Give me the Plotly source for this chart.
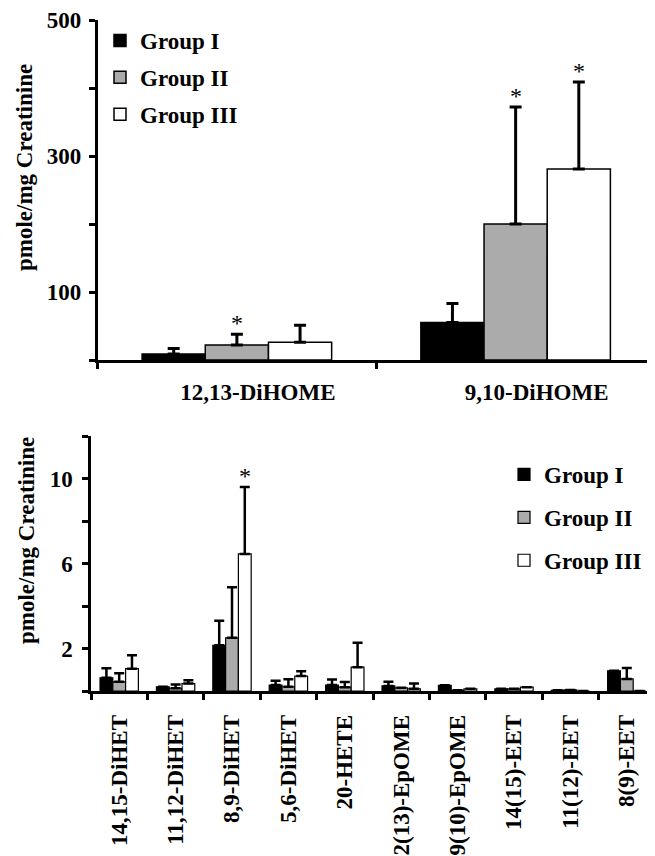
import plotly.graph_objects as go

# ---------------- data ----------------
groups = ["Group I", "Group II", "Group III"]

top_categories = ["12,13-DiHOME", "9,10-DiHOME"]
top_g1 = [9, 55]
top_g1_err = [8, 28]
top_g2 = [22, 200]
top_g2_err = [16, 172]
top_g3 = [26, 281]
top_g3_err = [25, 128]
top_star_g1 = [False, False]
top_star_g2 = [True, True]
top_star_g3 = [False, True]

bot_categories = ["14,15-DiHET", "11,12-DiHET", "8,9-DiHET", "5,6-DiHET", "20-HETE",
                  "12(13)-EpOME", "9(10)-EpOME", "14(15)-EET", "11(12)-EET", "8(9)-EET"]
bot_g1 = [0.62, 0.20, 2.15, 0.28, 0.28, 0.24, 0.27, 0.10, 0.03, 0.95]
bot_g1_err = [0.45, None, 1.15, 0.20, 0.26, 0.20, None, None, None, None]
bot_g2 = [0.43, 0.13, 2.50, 0.20, 0.18, 0.15, 0.03, 0.10, 0.05, 0.57]
bot_g2_err = [0.40, 0.17, 2.38, 0.35, 0.24, None, None, None, None, 0.51]
bot_g3 = [1.05, 0.35, 6.45, 0.70, 1.12, 0.10, 0.10, 0.18, 0.0, 0.0]
bot_g3_err = [0.63, 0.15, 3.15, 0.23, 1.15, 0.25, None, None, None, None]
bot_star_g1 = [False] * 10
bot_star_g2 = [False] * 10
bot_star_g3 = [False, False, True, False, False, False, False, False, False, False]

top_yticks = [0, 100, 200, 300, 400, 500]
top_yticklabels = ["", "100", "", "300", "", "500"]
bot_yticks = [0, 2, 4, 6, 8, 10, 12]
bot_yticklabels = ["", "2", "", "6", "", "10", ""]
y_title = "pmole/mg Creatinine"

# ---------------- styling ----------------
OFF = 8  # page body margin offset
W, H = 655 - OFF, 856 - OFF
FONT = "Liberation Serif, Times New Roman, serif"
fills = ["#000000", "#ababab", "#ffffff"]
BARGAP = 0.32

def px(v):
    return v - OFF

top_x0, top_x1 = px(97.5), float(W)
top_y0, top_y1 = px(20.0), px(360.0)
bot_x0, bot_x1 = px(91.0), float(W)
bot_y0, bot_y1 = px(436.0), px(691.0)

fig = go.Figure()

top_vals = [top_g1, top_g2, top_g3]
top_errs = [top_g1_err, top_g2_err, top_g3_err]
top_stars = [top_star_g1, top_star_g2, top_star_g3]
bot_vals = [bot_g1, bot_g2, bot_g3]
bot_errs = [bot_g1_err, bot_g2_err, bot_g3_err]
bot_stars = [bot_star_g1, bot_star_g2, bot_star_g3]

for i, name in enumerate(groups):
    fig.add_trace(go.Bar(
        x=top_categories, y=top_vals[i], name=name, legendgroup=name,
        legend="legend", showlegend=True,
        marker=dict(color=fills[i], line=dict(color="black", width=1.5)),
        error_y=dict(type="data", symmetric=False, array=top_errs[i],
                     arrayminus=[0] * len(top_errs[i]),
                     color="black", thickness=3, width=6),
        xaxis="x", yaxis="y",
    ))
for i, name in enumerate(groups):
    fig.add_trace(go.Bar(
        x=bot_categories, y=bot_vals[i], name=name, legendgroup=name,
        legend="legend2", showlegend=True,
        marker=dict(color=fills[i], line=dict(color="black", width=1.2)),
        error_y=dict(type="data", symmetric=False, array=bot_errs[i],
                     arrayminus=[0] * len(bot_errs[i]),
                     color="black", thickness=2.5, width=5),
        xaxis="x2", yaxis="y2",
    ))

# significance stars (placed above the error bars)
def add_stars(cats, vals, errs, stars, xref, yref, x0, x1):
    catw = (x1 - x0) / len(cats)
    barw = catw * (1 - BARGAP) / 3
    for gi in range(3):
        for ci, c in enumerate(cats):
            if stars[gi][ci]:
                top = vals[gi][ci] + (errs[gi][ci] or 0)
                fig.add_annotation(x=c, y=top, xref=xref, yref=yref, text="*",
                                   showarrow=False, xshift=(gi - 1) * barw,
                                   yanchor="middle", yshift=11,
                                   font=dict(family=FONT, size=24, color="#000000"))

add_stars(top_categories, top_vals, top_errs, top_stars, "x", "y", top_x0, top_x1)
add_stars(bot_categories, bot_vals, bot_errs, bot_stars, "x2", "y2", bot_x0, bot_x1)

tickfont = dict(family=FONT, size=23, color="black", weight="bold")
axis_common = dict(showline=True, linecolor="black", linewidth=2.5, ticks="outside",
                   ticklen=6, tickwidth=2.5, tickcolor="black", showgrid=False,
                   zeroline=False, tickfont=tickfont, fixedrange=True, automargin=False)

legend_font = dict(family=FONT, size=23, color="black", weight="bold")

fig.update_layout(
    template="none",
    width=W, height=H,
    margin=dict(l=0, r=0, t=0, b=0, autoexpand=False),
    paper_bgcolor="white", plot_bgcolor="white",
    barmode="group", bargap=BARGAP, bargroupgap=0,
    showlegend=True,
    xaxis=dict(domain=[top_x0 / W, top_x1 / W], anchor="y", type="category",
               range=[-0.5, 1.5], tickson="boundaries", ticklabelshift=21,
               ticklabelstandoff=10, **axis_common),
    yaxis=dict(domain=[1 - top_y1 / H, 1 - top_y0 / H], anchor="x", range=[0, 500],
               tickvals=top_yticks, ticktext=top_yticklabels, ticklabelstandoff=3,
               **axis_common),
    xaxis2=dict(domain=[bot_x0 / W, bot_x1 / W], anchor="y2", type="category",
                range=[-0.5, 9.5], tickson="boundaries", tickangle=-90,
                ticklabelstandoff=12, **axis_common),
    yaxis2=dict(domain=[1 - bot_y1 / H, 1 - bot_y0 / H], anchor="x2", range=[0, 12],
                tickvals=bot_yticks, ticktext=bot_yticklabels, ticklabelstandoff=5,
                **axis_common),
    legend=dict(x=px(100) / W, xanchor="left", y=1 - px(19) / H, yanchor="top",
                font=legend_font, bgcolor="rgba(0,0,0,0)", borderwidth=0,
                tracegroupgap=4, traceorder="grouped"),
    legend2=dict(x=px(504) / W, xanchor="left", y=1 - px(453) / H, yanchor="top",
                 font=legend_font, bgcolor="rgba(0,0,0,0)", borderwidth=0,
                 tracegroupgap=10, traceorder="grouped"),
)

# y-axis titles
fig.add_annotation(text=y_title, x=px(25) / W, y=1 - px(168) / H, xref="paper", yref="paper",
                   textangle=-90, showarrow=False, xanchor="center", yanchor="middle",
                   font=dict(family=FONT, size=23, color="black", weight="bold"))
fig.add_annotation(text=y_title, x=px(26) / W, y=1 - px(541) / H, xref="paper", yref="paper",
                   textangle=-90, showarrow=False, xanchor="center", yanchor="middle",
                   font=dict(family=FONT, size=23, color="black", weight="bold"))

fig.write_html("out.html")
